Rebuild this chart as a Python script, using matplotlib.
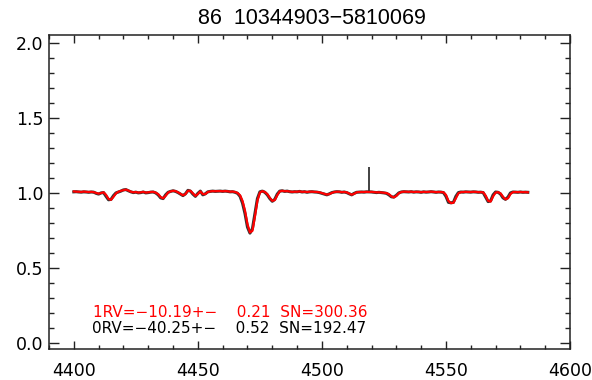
import numpy as np
import matplotlib
matplotlib.use("Agg")
import matplotlib.pyplot as plt
from matplotlib.ticker import MultipleLocator

plt.rcParams['font.family'] = ['DejaVu Sans']

# спектр: сетка длин волн (шаг 1 A) и потоки
wave = np.arange(4400, 4584)

flux_black = [
    1.005, 1.006, 1.004, 1.003, 1.005, 1.004, 1.002, 1.004, 1.003, 0.995,
    0.990, 0.998, 1.000, 0.975, 0.952, 0.955, 0.980, 0.998, 1.004, 1.010,
    1.018, 1.020, 1.012, 1.005, 1.000, 1.003, 0.998, 1.000, 1.004, 0.998,
    1.000, 1.003, 1.004, 0.998, 0.985, 0.965, 0.960, 0.985, 1.002, 1.008,
    1.012, 1.008, 1.000, 0.990, 0.980, 0.992, 1.015, 1.010, 0.990, 0.975,
    0.995, 1.010, 0.985, 0.992, 1.005, 1.008, 1.010, 1.008, 1.009, 1.010,
    1.008, 1.010, 1.008, 1.005, 1.006, 1.002, 0.995, 0.975, 0.930, 0.860,
    0.770, 0.730, 0.760, 0.860, 0.960, 1.005, 1.010, 1.002, 0.985, 0.960,
    0.942, 0.955, 0.990, 1.010, 1.012, 1.008, 1.010, 1.006, 1.004, 1.006,
    1.005, 1.008, 1.004, 1.006, 1.002, 1.005, 1.006, 1.004, 1.003, 1.000,
    0.995, 0.990, 0.985, 0.992, 1.000, 1.004, 1.006, 1.005, 1.002, 1.004,
    1.000, 0.992, 0.985, 0.995, 1.002, 1.003, 1.004, 1.003, 1.005, 1.005,
    1.004, 1.002, 1.000, 1.002, 1.000, 0.998, 0.995, 0.985, 0.972, 0.970,
    0.982, 0.998, 1.004, 1.006, 1.005, 1.004, 1.006, 1.003, 1.005, 1.004,
    1.002, 1.005, 1.003, 1.004, 1.006, 1.004, 1.002, 1.004, 1.003, 1.000,
    0.975, 0.935, 0.932, 0.935, 0.975, 1.000, 1.004, 1.003, 1.005, 1.004,
    1.003, 1.005, 1.004, 1.002, 1.003, 1.000, 0.970, 0.940, 0.945, 0.985,
    1.004, 1.002, 0.990, 0.965, 0.955, 0.970, 0.998, 1.004, 1.003, 1.002,
    1.004, 1.002, 1.003, 1.002,
]

flux_red = [
    1.008, 1.006, 1.006, 1.004, 1.007, 1.005, 1.004, 1.005, 1.003, 0.998,
    0.993, 0.997, 1.002, 0.985, 0.958, 0.952, 0.972, 0.995, 1.006, 1.012,
    1.016, 1.020, 1.014, 1.006, 1.002, 1.004, 1.000, 1.002, 1.005, 1.000,
    1.002, 1.004, 1.005, 1.000, 0.990, 0.970, 0.962, 0.978, 1.000, 1.008,
    1.012, 1.010, 1.002, 0.992, 0.982, 0.990, 1.012, 1.012, 0.995, 0.978,
    0.990, 1.008, 0.990, 0.990, 1.004, 1.008, 1.010, 1.009, 1.010, 1.010,
    1.009, 1.010, 1.009, 1.006, 1.007, 1.004, 0.998, 0.982, 0.945, 0.880,
    0.790, 0.735, 0.745, 0.840, 0.945, 1.000, 1.010, 1.004, 0.990, 0.965,
    0.945, 0.950, 0.982, 1.008, 1.012, 1.009, 1.010, 1.007, 1.005, 1.006,
    1.006, 1.008, 1.005, 1.006, 1.004, 1.006, 1.006, 1.005, 1.004, 1.002,
    0.997, 0.992, 0.987, 0.990, 0.998, 1.004, 1.006, 1.006, 1.003, 1.004,
    1.002, 0.994, 0.986, 0.992, 1.002, 1.004, 1.004, 1.004, 1.005, 1.004,
    1.005, 1.003, 1.002, 1.002, 1.001, 0.999, 0.997, 0.990, 0.975, 0.968,
    0.978, 0.995, 1.004, 1.006, 1.006, 1.005, 1.006, 1.004, 1.005, 1.005,
    1.003, 1.005, 1.004, 1.005, 1.006, 1.005, 1.003, 1.004, 1.004, 1.002,
    0.985, 0.945, 0.930, 0.932, 0.962, 0.995, 1.003, 1.004, 1.005, 1.004,
    1.004, 1.005, 1.005, 1.003, 1.003, 1.002, 0.980, 0.945, 0.940, 0.975,
    1.000, 1.003, 0.995, 0.972, 0.955, 0.962, 0.990, 1.003, 1.004, 1.003,
    1.004, 1.003, 1.003, 1.002,
]

# выброс (космическая частица) в чёрном спектре
spike_wave = 4519.0
spike_top = 1.17

title = "86  10344903\u22125810069"
label_red = "1RV=\u221210.19+\u2212    0.21  SN=300.36"
label_black = "0RV=\u221240.25+\u2212    0.52  SN=192.47"

fig = plt.figure(figsize=(5.92, 3.80), dpi=100)
ax = fig.add_axes([49 / 592, 31 / 380, 521 / 592, 314 / 380])

ax.plot(wave, flux_black, color="#333333", lw=2.2)
ax.vlines(spike_wave, 1.0, spike_top, color="#333333", lw=1.3)
ax.plot(wave, flux_red, color="red", lw=1.6)

ax.set_xlim(4390, 4600)
ax.set_ylim(-0.042, 2.05)

ax.xaxis.set_major_locator(MultipleLocator(50))
ax.xaxis.set_minor_locator(MultipleLocator(10))
ax.yaxis.set_major_locator(MultipleLocator(0.5))
ax.yaxis.set_minor_locator(MultipleLocator(0.1))
ax.set_yticks([0.0, 0.5, 1.0, 1.5, 2.0])
ax.set_yticklabels(["0.0", "0.5", "1.0", "1.5", "2.0"])
ax.tick_params(which="both", direction="in", top=True, right=True,
               labelsize=12.5, width=1.0, color="#222222")
ax.tick_params(axis="y", which="major", length=7, pad=4)
ax.tick_params(axis="y", which="minor", length=3.5)
ax.tick_params(axis="x", which="major", length=5.5, pad=9)
ax.tick_params(axis="x", which="minor", length=3)
for s in ax.spines.values():
    s.set_linewidth(1.1)
    s.set_color("#222222")

ax.text(0.084, 0.115, label_red, color="red", fontsize=11,
        transform=ax.transAxes, va="center", ha="left")
ax.text(0.082, 0.064, label_black, color="black", fontsize=11,
        transform=ax.transAxes, va="center", ha="left")

fig.text(312 / 592, 1 - 18 / 380, title, fontsize=15.5, ha="center", va="center",
         family="Liberation Sans")

fig.savefig("out.png", dpi=100)
